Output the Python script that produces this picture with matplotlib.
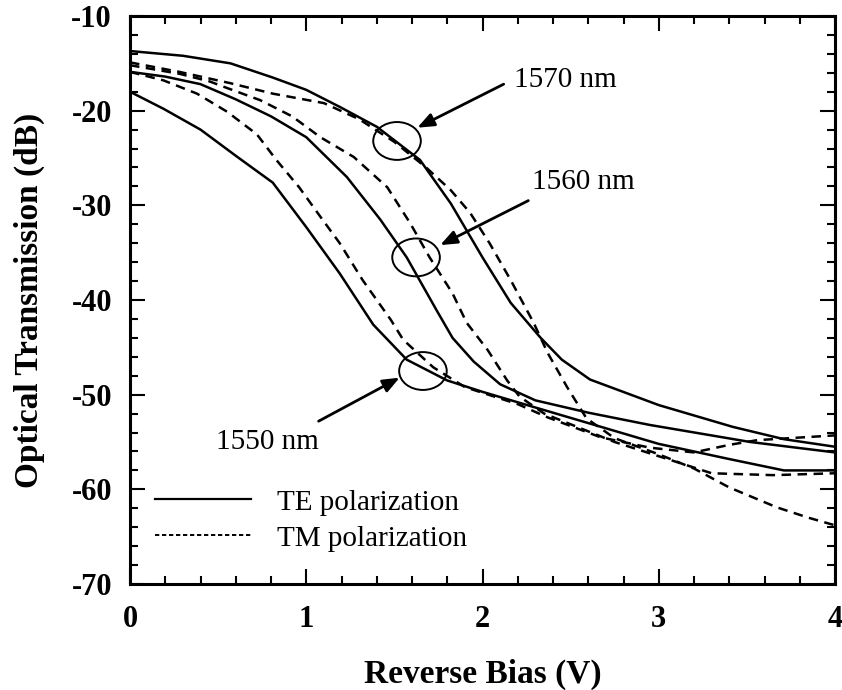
import numpy as np
import matplotlib.pyplot as plt
from matplotlib.patches import Ellipse
from matplotlib.lines import Line2D
from matplotlib.ticker import MultipleLocator

plt.rcParams['font.family'] = ['Liberation Serif', 'DejaVu Serif']
plt.rcParams['axes.unicode_minus'] = False

# TE polarization (solid lines)
te1570_v = [0, 0.3, 0.57, 0.81, 1.0, 1.19, 1.40, 1.645, 1.82, 2.0, 2.16, 2.33, 2.45, 2.61, 3.0, 3.42, 3.71, 4.0]
te1570_db = [-13.7, -14.2, -15.0, -16.5, -17.8, -19.6, -21.7, -25.2, -29.8, -35.5, -40.3, -44.0, -46.3, -48.4, -51.1, -53.4, -54.7, -55.5]

te1560_v = [0, 0.2, 0.4, 0.6, 0.8, 1.0, 1.23, 1.42, 1.57, 1.74, 1.83, 1.95, 2.1, 2.3, 2.6, 2.95, 3.52, 4.0]
te1560_db = [-15.9, -16.4, -17.2, -18.8, -20.6, -22.8, -27.0, -31.5, -35.5, -41.1, -44.0, -46.5, -48.9, -50.6, -51.9, -53.2, -55.0, -56.1]

te1550_v = [0, 0.19, 0.40, 0.61, 0.81, 1.0, 1.19, 1.38, 1.57, 1.8, 2.0, 2.29, 2.6, 3.0, 3.4, 3.71, 4.0]
te1550_db = [-18.0, -19.8, -22.0, -24.9, -27.6, -32.3, -37.2, -42.6, -46.3, -48.5, -49.7, -51.3, -53.0, -55.2, -56.8, -58.0, -58.0]

# TM polarization (dashed lines)
tm1570_v = [0, 0.28, 0.57, 0.81, 1.1, 1.3, 1.5, 1.68, 1.82, 1.93, 2.04, 2.16, 2.29, 2.37, 2.48, 2.59, 2.75, 3.0, 3.2, 3.4, 3.67, 3.85, 4.0]
tm1570_db = [-14.9, -15.9, -17.1, -18.2, -19.2, -20.9, -23.3, -26.0, -28.4, -30.8, -34.0, -37.9, -42.4, -45.6, -49.2, -52.5, -54.6, -56.3, -57.8, -59.8, -61.9, -63.0, -63.8]

tm1560_v = [0, 0.28, 0.45, 0.55, 0.74, 0.92, 1.08, 1.27, 1.46, 1.59, 1.70, 1.83, 1.91, 2.03, 2.14, 2.21, 2.35, 2.55, 2.75, 3.0, 3.3, 3.65, 4.0]
tm1560_db = [-15.2, -16.1, -16.9, -17.6, -18.9, -20.6, -22.8, -24.9, -28.1, -31.9, -35.5, -39.3, -42.4, -45.3, -48.5, -50.2, -52.0, -53.5, -55.0, -56.5, -58.3, -58.5, -58.3]

tm1550_v = [0, 0.19, 0.38, 0.55, 0.72, 0.83, 0.96, 1.08, 1.19, 1.32, 1.48, 1.55, 1.72, 1.9, 2.2, 2.37, 2.67, 2.95, 3.2, 3.4, 3.56, 4.0]
tm1550_db = [-15.9, -16.8, -18.2, -20.1, -22.5, -25.2, -28.1, -31.2, -34.0, -37.9, -42.1, -44.2, -47.1, -49.2, -51.0, -52.4, -54.5, -55.6, -56.1, -55.3, -54.8, -54.3]

te_curves = [(te1570_v, te1570_db), (te1560_v, te1560_db), (te1550_v, te1550_db)]
tm_curves = [(tm1570_v, tm1570_db), (tm1560_v, tm1560_db), (tm1550_v, tm1550_db)]

# wavelength labels: text position, arrow tail/tip, circle centre
wl_labels = ['1570 nm', '1560 nm', '1550 nm']
wl_text_xy = [(2.18, -16.8), (2.28, -27.5), (0.49, -55.0)]
wl_tail_xy = [(2.12, -17.2), (2.26, -29.5), (1.07, -52.8)]
wl_tip_xy = [(1.63, -21.8), (1.76, -34.2), (1.53, -48.2)]
circle_xy = [(1.515, -23.2), (1.623, -35.5), (1.662, -47.5)]

fig = plt.figure(figsize=(8.42, 6.90), dpi=100)
ax = fig.add_axes([0.1544, 0.1536, 0.8373, 0.8232])

for v, db in te_curves:
    ax.plot(v, db, color='black', lw=1.8, solid_joinstyle='round')
for v, db in tm_curves:
    ax.plot(v, db, color='black', lw=1.8, ls=(0, (3.8, 2.6)))

for (cx, cy) in circle_xy:
    ax.add_patch(Ellipse((cx, cy), 0.27, 4.0, fill=False, ec='black', lw=1.4))

for lab, txy, tail, tip in zip(wl_labels, wl_text_xy, wl_tail_xy, wl_tip_xy):
    ax.text(txy[0], txy[1], lab, fontsize=21, va='center', ha='left')
    ax.annotate('', xy=tip, xytext=tail,
                arrowprops=dict(arrowstyle='-|>,head_length=1.0,head_width=0.4',
                                color='black', lw=2.0, shrinkA=0, shrinkB=0))

handles = [Line2D([], [], color='black', lw=1.6),
           Line2D([], [], color='black', lw=1.4, ls=(0, (2.2, 1.4)))]
ax.legend(handles, ['TE polarization', 'TM polarization'], loc='upper left',
          bbox_to_anchor=(0.035, 0.167), frameon=False, fontsize=21,
          handlelength=3.3, handletextpad=0.9, labelspacing=0.33,
          borderpad=0, borderaxespad=0)

ax.set_xlim(0, 4)
ax.set_ylim(-70, -10)
ax.xaxis.set_major_locator(MultipleLocator(1))
ax.xaxis.set_minor_locator(MultipleLocator(0.2))
ax.yaxis.set_major_locator(MultipleLocator(10))
ax.yaxis.set_minor_locator(MultipleLocator(2))
ax.tick_params(which='both', direction='in', top=True, right=True, width=1.5)
ax.tick_params(which='major', length=11)
ax.tick_params(which='minor', length=6)
ax.tick_params(axis='x', which='major', pad=15)
ax.tick_params(axis='y', which='major', pad=13)
for lbl in ax.get_xticklabels() + ax.get_yticklabels():
    lbl.set_fontsize(22)
    lbl.set_fontweight('bold')
for s in ax.spines.values():
    s.set_linewidth(2.2)

ax.set_xlabel('Reverse Bias (V)', fontsize=24, fontweight='bold', labelpad=18)
ax.set_ylabel('Optical Transmission (dB)', fontsize=24, fontweight='bold', labelpad=19)

fig.savefig('out.png', dpi=100)
